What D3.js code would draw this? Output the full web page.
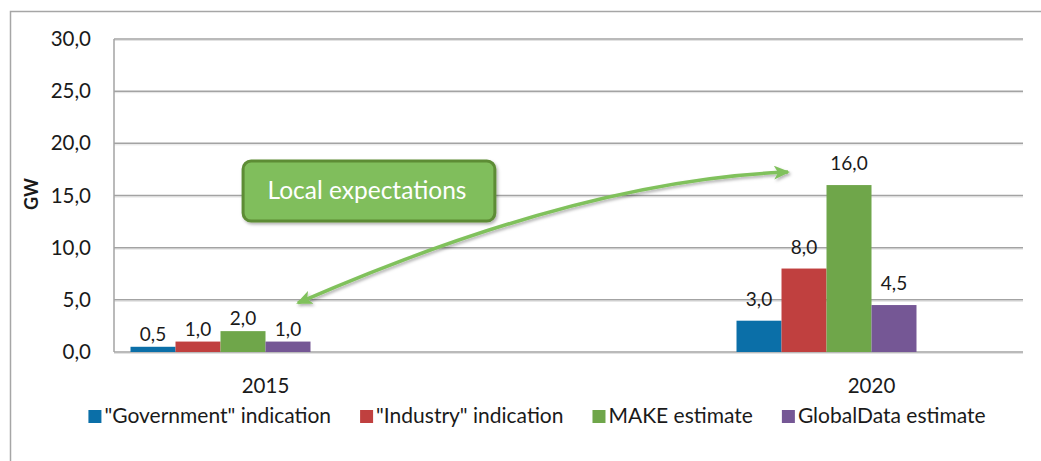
<!DOCTYPE html>
<html>
<head>
<meta charset="utf-8">
<script src="https://cdn.jsdelivr.net/npm/d3@7"></script>
<style>
  body { margin: 0; background: #fff; }
  svg { display: block; font-family: Lato, "Open Sans", sans-serif; }
</style>
</head>
<body>
<svg width="1041" height="461"></svg>
<script>
// Installed capacity expectations (GW), 2015 vs 2020
const categories = ['2015', '', '2020'];
const seriesNames = ['"Government" indication', '"Industry" indication', 'MAKE estimate', 'GlobalData estimate'];
const seriesColors = ['#0b6fa8', '#c0403f', '#6fa64a', '#755795'];
const government = [0.5, null, 3.0];
const industry = [1.0, null, 8.0];
const make = [2.0, null, 16.0];
const globalData = [1.0, null, 4.5];
const yTicks = [0, 5, 10, 15, 20, 25, 30];
const annotationText = 'Local expectations';

// annotation anchors: x as fraction of the plot width, y in GW
const arrowFrom = { x: 0.2024, y: 4.7 };
const arrowCtrl = { x: 0.5127, y: 16.5 };
const arrowTo = { x: 0.7415, y: 17.25 };
const boxCorners = { x0: 0.142, x1: 0.419, yTop: 18.3, yBottom: 12.55 };

//General constants
const SVG = d3.select('svg');
const PLOT_LEFT = 114;
const PLOT_RIGHT = 1023;
const PLOT_TOP = 39;
const PLOT_BOTTOM = 352;
const SLOTS = 6; // Excel keeps room for 6 bars per category

const allSeries = [government, industry, make, globalData];
const comma = d3.formatLocale({ decimal: ',', thousands: '.', grouping: [3], currency: ['', ''] }).format('.1f');

//Scales
var yScale = d3.scaleLinear().domain([0, 30]).range([PLOT_BOTTOM, PLOT_TOP]);
var xScale = d3.scaleBand().domain(categories).range([PLOT_LEFT, PLOT_RIGHT]);
var slotScale = d3.scaleBand().domain(d3.range(SLOTS)).range([0, xScale.bandwidth()]).paddingOuter(0.367);
var fracScale = d3.scaleLinear().domain([0, 1]).range([PLOT_LEFT, PLOT_RIGHT]);
var labelGap = d3.scaleOrdinal().domain(categories).range([6, 0, 15]);

//Defs: shadow and arrow heads
const defs = SVG.append('defs');
defs.append('filter').attr('id', 'shadow').attr('x', '-10%').attr('y', '-30%').attr('width', '130%').attr('height', '170%')
    .append('feDropShadow').attr('dx', 1.5).attr('dy', 2).attr('stdDeviation', 1.5)
    .attr('flood-color', '#000').attr('flood-opacity', 0.3);
['start', 'end'].forEach(name => {
  defs.append('marker')
      .attr('id', 'head-' + name)
      .attr('markerUnits', 'userSpaceOnUse')
      .attr('viewBox', '0 0 16 14')
      .attr('markerWidth', 16).attr('markerHeight', 14)
      .attr('refX', 14).attr('refY', 7)
      .attr('orient', name === 'start' ? 'auto-start-reverse' : 'auto')
      .append('path')
      .attr('d', 'M0,0 L16,7 L0,14 L4,7 Z')
      .attr('fill', '#80c15c');
});

//Outer chart border
SVG.append('rect').attr('x', 10.5).attr('y', 11.5).attr('width', 1100).attr('height', 500)
   .attr('fill', 'none').attr('stroke', '#a6a6a6').attr('stroke-width', 1.5);

//Gridlines
const grid = SVG.append('g');
grid.selectAll('line.shade').data(yTicks).enter().append('line')
    .attr('x1', PLOT_LEFT).attr('x2', PLOT_RIGHT)
    .attr('y1', d => yScale(d) + 1.5).attr('y2', d => yScale(d) + 1.5)
    .attr('stroke', '#e2e2e2').attr('stroke-width', 1);
grid.selectAll('line.main').data(yTicks).enter().append('line')
    .attr('x1', PLOT_LEFT).attr('x2', PLOT_RIGHT)
    .attr('y1', d => yScale(d)).attr('y2', d => yScale(d))
    .attr('stroke', '#a3a3a3').attr('stroke-width', 1.5);
SVG.append('line').attr('x1', PLOT_LEFT).attr('x2', PLOT_LEFT)
   .attr('y1', PLOT_TOP).attr('y2', PLOT_BOTTOM)
   .attr('stroke', '#a3a3a3').attr('stroke-width', 1.5);

//Axes
var yAxis = d3.axisLeft(yScale).tickValues(yTicks).tickFormat(comma).tickSize(0).tickPadding(23);
var xAxis = d3.axisBottom(xScale).tickSize(0).tickPadding(26);
const yG = SVG.append('g').attr('transform', `translate(${PLOT_LEFT}, 0)`).call(yAxis);
const xG = SVG.append('g').attr('transform', `translate(0, ${PLOT_BOTTOM})`).call(xAxis);
[yG, xG].forEach(g => {
  g.select('.domain').remove();
  g.selectAll('text').style('font-family', 'Lato').style('font-size', '20.5px').attr('fill', '#1a1a1a');
});

SVG.append('text').attr('transform', 'rotate(-90)')
   .attr('x', -194).attr('y', 38)
   .style('text-anchor', 'middle').style('font-size', '18px').style('font-weight', 'bold')
   .attr('fill', '#1a1a1a')
   .text('GW');

//Bars
const bars = SVG.append('g');
allSeries.forEach((values, s) => {
  const rows = categories.map((c, i) => ({ cat: c, value: values[i] })).filter(d => d.value != null);
  bars.selectAll(null).data(rows).enter().append('rect')
      .attr('x', d => xScale(d.cat) + slotScale(s))
      .attr('width', slotScale.bandwidth())
      .attr('y', d => yScale(d.value))
      .attr('height', d => yScale(0) - yScale(d.value))
      .attr('fill', seriesColors[s]);
  bars.selectAll(null).data(rows).enter().append('text')
      .attr('x', d => xScale(d.cat) + slotScale(s) + slotScale.bandwidth() / 2)
      .attr('y', d => yScale(d.value) - labelGap(d.cat))
      .style('text-anchor', 'middle').style('font-size', '19px')
      .attr('fill', '#1a1a1a')
      .text(d => comma(d.value));
});

//Annotation arrow
const arrowPath = d3.path();
arrowPath.moveTo(fracScale(arrowFrom.x), yScale(arrowFrom.y));
arrowPath.quadraticCurveTo(fracScale(arrowCtrl.x), yScale(arrowCtrl.y), fracScale(arrowTo.x), yScale(arrowTo.y));
SVG.append('path')
   .attr('d', arrowPath.toString())
   .attr('fill', 'none').attr('stroke', '#80c15c').attr('stroke-width', 3.5)
   .attr('marker-start', 'url(#head-start)').attr('marker-end', 'url(#head-end)')
   .attr('filter', 'url(#shadow)');

//Annotation box
const bx0 = fracScale(boxCorners.x0), bx1 = fracScale(boxCorners.x1);
const by0 = yScale(boxCorners.yTop), by1 = yScale(boxCorners.yBottom);
SVG.append('rect')
   .attr('x', bx0).attr('y', by0).attr('width', bx1 - bx0).attr('height', by1 - by0)
   .attr('rx', 8).attr('ry', 8)
   .attr('fill', '#80be5b').attr('stroke', '#5d8c35').attr('stroke-width', 3)
   .attr('filter', 'url(#shadow)');
SVG.append('text')
   .attr('x', (bx0 + bx1) / 2 - 2).attr('y', (by0 + by1) / 2 + 8)
   .style('text-anchor', 'middle').style('font-size', '24.5px')
   .attr('fill', '#fff')
   .text(annotationText);

//Legend
const legend = SVG.append('g');
const items = legend.selectAll('g').data(seriesNames).enter().append('g');
items.append('rect').attr('y', 410).attr('width', 13).attr('height', 13)
     .attr('fill', (d, i) => seriesColors[i]);
items.append('text').attr('x', 16).attr('y', 423)
     .style('font-size', '21px').attr('fill', '#1a1a1a')
     .text(d => d);
let cursor = 0;
const widths = [];
items.each(function () { widths.push(16 + d3.select(this).select('text').node().getComputedTextLength()); });
const total = d3.sum(widths) + 29 * (widths.length - 1);
cursor = 537 - total / 2;
items.attr('transform', (d, i) => {
  const x = cursor;
  cursor += widths[i] + 29;
  return `translate(${x}, 0)`;
});
</script>
</body>
</html>
